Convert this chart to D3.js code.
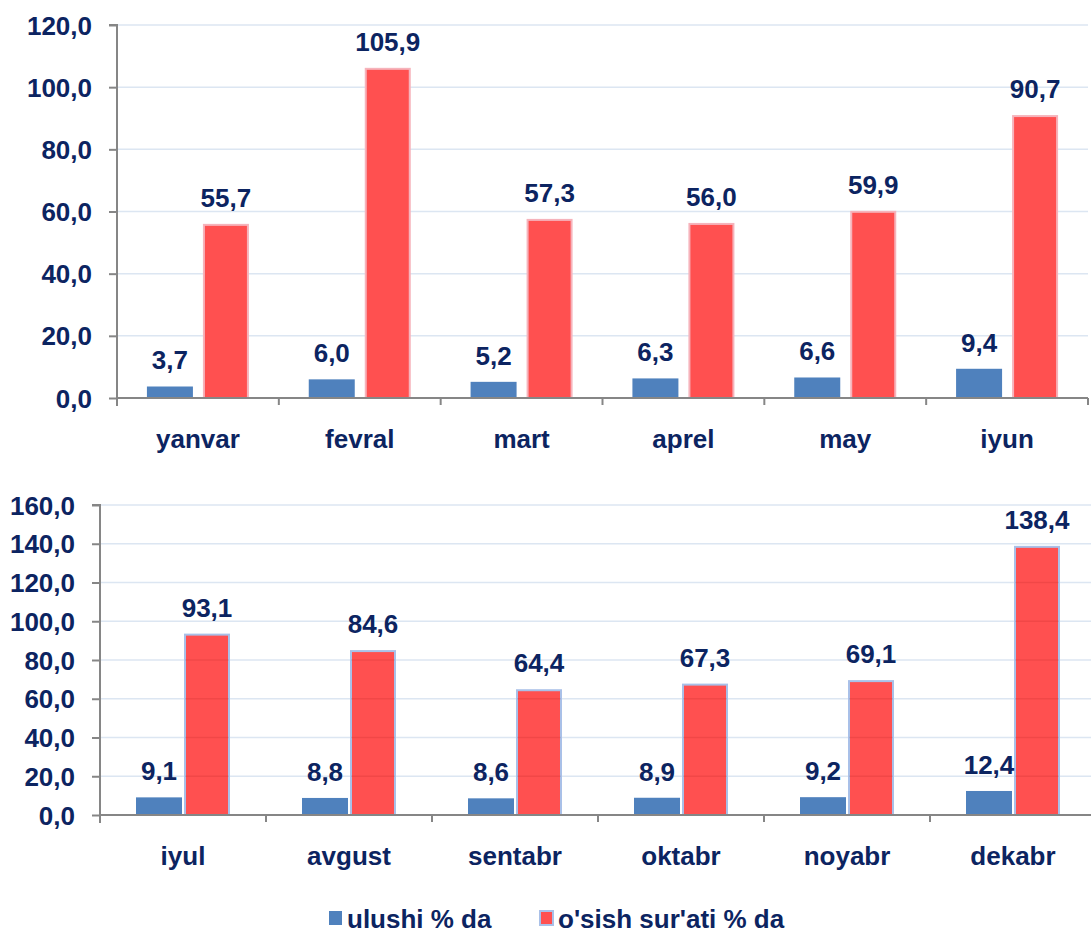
<!DOCTYPE html>
<html><head><meta charset="utf-8">
<script src="https://cdn.jsdelivr.net/npm/d3@7"></script>
<style>body{margin:0;background:#fff;overflow:hidden;} text{font-family:"Liberation Sans",Arial,sans-serif;font-weight:bold;fill:#0c2461;}</style>
</head><body>
<svg id="c" width="1091" height="934"></svg>
<script>
const months1 = ["yanvar","fevral","mart","aprel","may","iyun"];
const ulushi1 = [3.7,6.0,5.2,6.3,6.6,9.4];
const osish1 = [55.7,105.9,57.3,56.0,59.9,90.7];
const ticks1 = [0,20,40,60,80,100,120];

const months2 = ["iyul","avgust","sentabr","oktabr","noyabr","dekabr"];
const ulushi2 = [9.1,8.8,8.6,8.9,9.2,12.4];
const osish2 = [93.1,84.6,64.4,67.3,69.1,138.4];
const ticks2 = [0,20,40,60,80,100,120,140,160];

const seriesNames = ["ulushi % da","o'sish sur'ati % da"];

const svg = d3.select("#c");
const fmt = v => v.toFixed(1).replace(".", ",");
const FS = 26;

function panel(cfg){
  const {months, a, b, ticks, x0, x1, yTop, yBot, redStroke, gap, labelX, gridOver} = cfg;
  const y = d3.scaleLinear().domain([0, d3.max(ticks)]).range([yBot, yTop]);
  const x = d3.scaleBand().domain(months).range([x0, x1]);
  const g = svg.append("g");
  g.selectAll(".grid").data(ticks.filter(t=>t>0)).join("line")
    .attr("x1", x0).attr("x2", x1).attr("y1", d=>y(d)).attr("y2", d=>y(d))
    .attr("stroke","#dce6f2").attr("stroke-width",1.5);
  const bw = 46;
  const cx = m => x(m) + x.bandwidth()/2;
  g.selectAll(".b").data(months).join("rect")
    .attr("x", m => cx(m) - gap/2 - bw)
    .attr("y", (m,i)=>y(a[i])).attr("width", bw)
    .attr("height", (m,i)=>yBot - y(a[i])).attr("fill","#4f81bd");
  g.selectAll(".r").data(months).join("rect")
    .attr("x", m => cx(m) + gap/2 + 1)
    .attr("y", (m,i)=>y(b[i])).attr("width", bw-2)
    .attr("height", (m,i)=>yBot - y(b[i])).attr("fill","#ff5050")
    .attr("stroke", redStroke).attr("stroke-width",2);
  if (gridOver) {
    months.forEach((m,i)=>{
      const bx = cx(m) + gap/2 + 1;
      g.selectAll(null).data(ticks.filter(t=>t>0 && t < b[i])).join("line")
        .attr("x1", bx).attr("x2", bx + bw - 2).attr("y1", d=>y(d)).attr("y2", d=>y(d))
        .attr("stroke","rgba(120,0,0,0.10)").attr("stroke-width",1.5);
    });
  }
  const ya = d3.axisLeft(y).tickValues(ticks).tickSize(8).tickFormat(fmt);
  const yg = g.append("g").attr("transform",`translate(${x0},0)`).call(ya);
  yg.select(".domain").attr("stroke","#868686").attr("stroke-width",2).attr("d",`M-8,${yTop}H0V${yBot+8}`);
  yg.selectAll(".tick line").attr("stroke","#868686").attr("stroke-width",2);
  yg.selectAll(".tick text").attr("x",-labelX).attr("font-size",FS).attr("dy","0.35em")
    .style("font-family","Liberation Sans").style("font-weight","bold").attr("fill","#0c2461");
  g.append("line").attr("x1",x0).attr("x2",x1).attr("y1",yBot).attr("y2",yBot).attr("stroke","#868686").attr("stroke-width",2);
  g.selectAll(".xt").data(months.slice(1).concat([null])).join("line")
    .attr("x1",(m,i)=> i<months.length-1 ? x(m) : x1).attr("x2",(m,i)=> i<months.length-1 ? x(m) : x1)
    .attr("y1",yBot).attr("y2",yBot+7).attr("stroke","#868686").attr("stroke-width",2);
  g.selectAll(".cl").data(months).join("text")
    .attr("x", cx).attr("y", yBot + 50).attr("text-anchor","middle").attr("font-size",FS).text(d=>d);
  g.selectAll(".la").data(months).join("text")
    .attr("x", m => cx(m) - gap/2 - bw/2).attr("y",(m,i)=>y(a[i]) - 17)
    .attr("text-anchor","middle").attr("font-size",FS).text((m,i)=>fmt(a[i]));
  g.selectAll(".lb").data(months).join("text")
    .attr("x", m => cx(m) + gap/2 + bw/2).attr("y",(m,i)=>y(b[i]) - 18)
    .attr("text-anchor","middle").attr("font-size",FS).text((m,i)=>fmt(b[i]));
}

panel({months:months1, a:ulushi1, b:osish1, ticks:ticks1, x0:117, x1:1088, yTop:25, yBot:398, redStroke:"#f6b3bb", gap:10, labelX:25, gridOver:false});
panel({months:months2, a:ulushi2, b:osish2, ticks:ticks2, x0:100, x1:1096, yTop:505, yBot:815, redStroke:"#a9c0e8", gap:2, labelX:25, gridOver:true});

const lg = svg.append("g");
lg.append("rect").attr("x",329).attr("y",911).attr("width",13).attr("height",14).attr("fill","#4f81bd");
lg.append("text").attr("x",347).attr("y",928).attr("font-size",FS).text(seriesNames[0]);
lg.append("rect").attr("x",540).attr("y",911).attr("width",13).attr("height",14).attr("fill","#ff5050").attr("stroke","#a9c0e8").attr("stroke-width",2);
lg.append("text").attr("x",558).attr("y",928).attr("font-size",FS).text(seriesNames[1]);
</script>
</body></html>
